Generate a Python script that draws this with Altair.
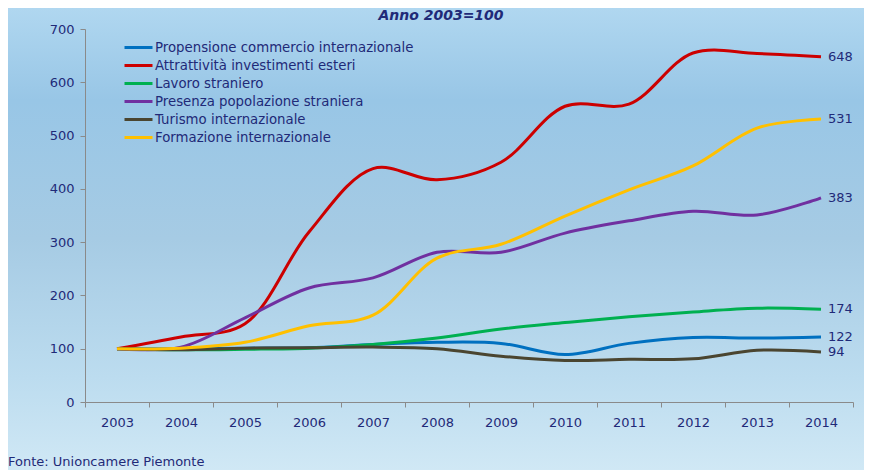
import altair as alt
import pandas as pd

years = [str(y) for y in range(2003, 2015)]
series = [
    "Propensione commercio internazionale",
    "Attrattività investimenti esteri",
    "Lavoro straniero",
    "Presenza popolazione straniera",
    "Turismo internazionale",
    "Formazione internazionale",
]
colors = ["#0070c0", "#cc0000", "#00b050", "#7030a0", "#4a4530", "#ffc000"]

propensione = [100, 100, 101, 102, 108, 112, 110, 89, 110, 121, 120, 122]
attrattivita = [100, 122, 147, 319, 438, 417, 450, 555, 559, 655, 654, 648]
lavoro = [100, 98, 99, 101, 108, 120, 137, 149, 160, 169, 176, 174]
presenza = [100, 103, 158, 214, 233, 281, 281, 317, 340, 358, 351, 383]
turismo = [100, 98, 101, 102, 103, 100, 86, 78, 80, 81, 97, 94]
formazione = [100, 101, 112, 143, 163, 270, 296, 349, 398, 443, 514, 531]

title_text = "Anno 2003=100"
source_text = "Fonte: Unioncamere Piemonte"

rows = []
for s, vals in zip(series, [propensione, attrattivita, lavoro, presenza, turismo, formazione]):
    for y, v in zip(years, vals):
        rows.append({"serie": s, "anno": y, "valore": v})
df = pd.DataFrame(rows)

W, H = 768, 373
PL, PT, PR, PB = 77, 21, 11, 68
navy = "#1f2a78"
font = "DejaVu Sans"
FS = 13

xscale = alt.Scale(type="band", paddingInner=0, paddingOuter=0)
xenc = alt.X(
    "anno:O",
    scale=xscale,
    bandPosition=0.5,
    axis=alt.Axis(title=None, labelAngle=0, tickBand="extent", tickSize=5, zindex=1,
                  labelPadding=9, labelFontSize=FS, labelColor=navy, labelFont=font,
                  domainColor="#8a8a8a", tickColor="#8a8a8a"),
)
yenc = alt.Y(
    "valore:Q",
    scale=alt.Scale(domain=[0, 700]),
    axis=alt.Axis(title=None, values=list(range(0, 701, 100)), grid=False, tickSize=5, zindex=1,
                  labelPadding=6, labelFontSize=FS, labelColor=navy, labelFont=font,
                  domainColor="#8a8a8a", tickColor="#8a8a8a"),
)
color = alt.Color(
    "serie:N",
    scale=alt.Scale(domain=series, range=colors),
    legend=alt.Legend(
        title=None, orient="none", legendX=45, legendY=10, padding=0, zindex=2,
        symbolType="M-2,0L2,0", symbolSize=196, symbolStrokeWidth=3,
        labelOffset=8, labelFontSize=13.3, labelColor=navy, labelFont=font,
        rowPadding=3, labelLimit=400,
    ),
)

bgdata = pd.DataFrame({"k": [0]})
bg = alt.Chart(bgdata).mark_rect(
    color=alt.LinearGradient(
        gradient="linear", x1=0, x2=0, y1=0, y2=1,
        stops=[
            alt.GradientStop(color="#b0d7f0", offset=0),
            alt.GradientStop(color="#98c6e6", offset=0.2),
            alt.GradientStop(color="#a6cbe4", offset=0.5),
            alt.GradientStop(color="#bcdcef", offset=0.8),
            alt.GradientStop(color="#d0e8f5", offset=1),
        ],
    )
).encode(
    x=alt.value(-PL), x2=alt.value(W + PR), y=alt.value(-PT), y2=alt.value(H + PB)
)

lines = alt.Chart(df).mark_line(interpolate="catmull-rom", strokeWidth=3).encode(
    x=xenc, y=yenc, color=color
)

labels = alt.Chart(df).transform_filter(alt.datum.anno == "2014").mark_text(
    align="left", dx=7, fontSize=FS, color=navy, font=font
).encode(
    x=alt.X("anno:O", scale=xscale, bandPosition=0.5),
    y="valore:Q",
    text="valore:Q",
)

title = alt.Chart(pd.DataFrame({"t": [title_text]})).mark_text(
    align="center", baseline="alphabetic", fontSize=14, fontWeight="bold",
    fontStyle="italic", color=navy, font=font
).encode(text="t:N", x=alt.value(356), y=alt.value(-9))

source = alt.Chart(pd.DataFrame({"t": [source_text]})).mark_text(
    align="left", baseline="alphabetic", fontSize=FS, color=navy, font=font
).encode(text="t:N", x=alt.value(-PL), y=alt.value(H + 64))

chart = alt.layer(bg, lines, labels, title, source).properties(
    width=W, height=H,
    autosize=alt.AutoSizeParams(type="none"),
    padding={"left": PL, "top": PT, "right": PR, "bottom": PB},
).configure_view(stroke=None).configure(background="#b4d6ee")

chart.save("out.html", embed_options={"renderer": "svg", "actions": False})
